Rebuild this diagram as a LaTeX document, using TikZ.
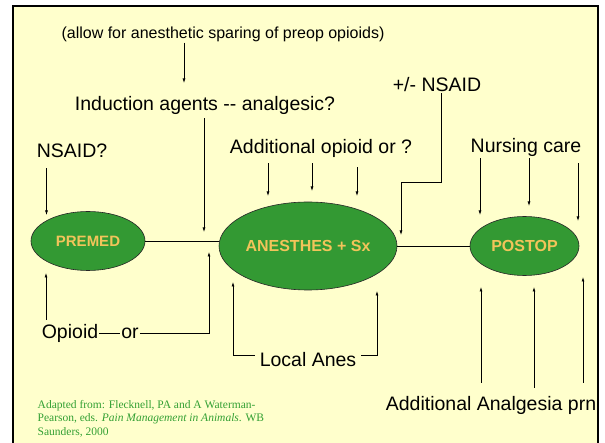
\documentclass[tikz,border=0pt]{standalone}
\usepackage{fontspec}
\setmainfont{Liberation Sans}
\newfontfamily\citefont{Liberation Serif}
\usetikzlibrary{shapes.geometric,arrows.meta}
\definecolor{slidebg}{HTML}{FFFFCC}
\definecolor{stagegreen}{HTML}{339933}
\definecolor{stagegold}{HTML}{F2C45A}
\definecolor{citegreen}{HTML}{33A033}

\begin{document}
\begin{tikzpicture}[x=1pt,y=-1pt,
  lbl/.style={font=\fontsize{19.5}{22}\selectfont,inner sep=1pt},
  note/.style={lbl,font=\fontsize{16}{19}\selectfont},
  stage/.style={ellipse,draw=black!85,line width=0.6pt,fill=stagegreen,inner sep=0pt,
    text=stagegold,font=\bfseries\fontsize{16}{19}\selectfont},
  conn/.style={line width=0.7pt},
  >={Latex[length=4.5pt,width=3pt]}]
  \useasboundingbox (0,0) rectangle (605,443);
  \draw[line width=2pt,fill=slidebg] (13,6) rectangle (598,470);

  % the three stages
  \node[stage,minimum width=114pt,minimum height=59pt,font=\bfseries\fontsize{15}{18}\selectfont]
    (premed) at (88,241) {PREMED};
  \node[stage,minimum width=178pt,minimum height=88pt] (anes) at (308,246) {ANESTHES + Sx};
  \node[stage,minimum width=109pt,minimum height=59pt] (postop) at (524.5,246) {POSTOP};
  \draw[conn] (premed.east) -- (premed.east -| anes.west);
  \draw[conn] (anes.east) -- (postop.west);

  % labels
  \node[note] (allow) at (223,34) {(allow for anesthetic sparing of preop opioids)};
  \node[lbl] (induct) at (205,105) {Induction agents -\kern0pt- analgesic?};
  \node[lbl] (pmnsaid) at (437,85) {+/- NSAID};
  \node[lbl] (nsaid) at (72,151) {NSAID?};
  \node[lbl] (addop) at (321,148) {Additional opioid or ?};
  \node[lbl] (nursing) at (526,147) {Nursing care};
  \node[lbl] (opioid) at (70,333) {Opioid};
  \node[lbl] (orlbl) at (130,333) {or};
  \node[lbl,inner xsep=5pt] (localanes) at (308,360) {Local Anes};
  \node[lbl] (addanalg) at (491,405) {Additional Analgesia prn};

  % into PREMED
  \draw[conn,->,shorten <=9pt] (nsaid.south -| 46.5,0) -- (46.5,215);
  \draw[conn,->,shorten <=3pt] (opioid.north -| 46,0) -- (46,273);
  \draw[conn] (opioid.east) -- (orlbl.west);

  % into ANESTHES
  \draw[conn,->] (allow.south -| 184,0) -- (184,83);
  \draw[conn,->,shorten <=3pt] (induct.south -| 204,0) -- (204,232);
  \draw[conn,->] (orlbl.east) -| (209,252);
  \draw[conn,->] (pmnsaid.south -| 441,0) |- (401,182) -- (401,235);
  \foreach \x/\s/\y in {268/5/196, 312/5/191, 357/9/196}
    \draw[conn,->,shorten <=\s pt] (addop.south -| \x,0) -- (\x,\y);
  \draw[conn,->] ([yshift=5pt]localanes.west) -| (233,282);
  \draw[conn,->] ([yshift=5pt]localanes.east) -| (377,291);

  % into POSTOP
  \foreach \x/\s/\y in {480/1/215, 529/1/206, 578/6/221}
    \draw[conn,->,shorten <=\s pt] (nursing.south -| \x,0) -- (\x,\y);
  \foreach \x/\s/\y in {481/12/287, 534/7/287, 583/12/277}
    \draw[conn,->,shorten <=\s pt] (addanalg.north -| \x,0) -- (\x,\y);

  % source
  \node[anchor=north west,inner sep=0pt,align=left,text=citegreen,
    font=\citefont\fontsize{11.5}{13.7}\selectfont] (cite) at (37.5,400)
    {Adapted from: Flecknell, PA and A Waterman-\\Pearson, eds. \textit{Pain Management in Animals}. WB\\Saunders, 2000};
\end{tikzpicture}
\end{document}
